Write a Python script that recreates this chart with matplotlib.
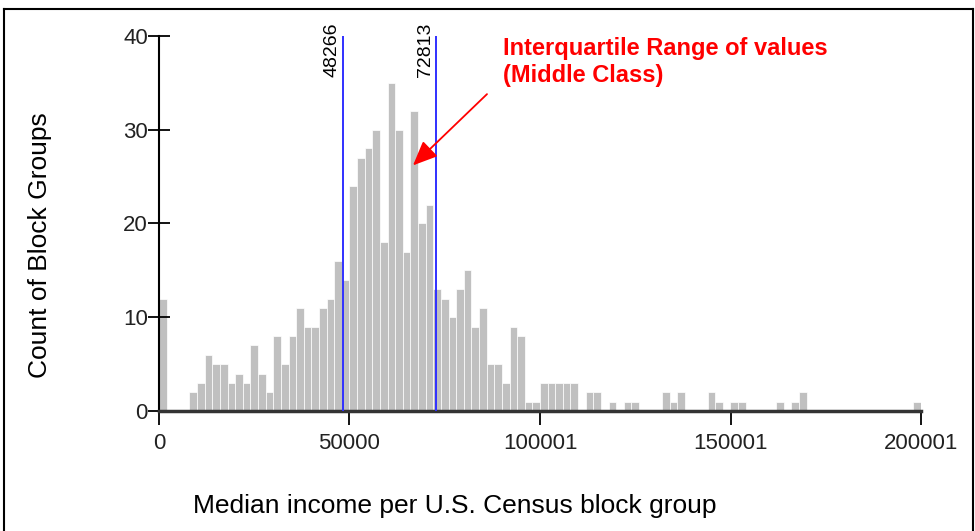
import numpy as np
import matplotlib
matplotlib.use("Agg")
from matplotlib import pyplot as plt
from matplotlib.lines import Line2D

plt.rcParams['font.family'] = ['Liberation Sans', 'DejaVu Sans']

# histogram of median income, bins of 2000 starting at 0
bin_width = 2000
counts = [12, 0, 0, 0, 2, 3, 6, 5, 5, 3,
          4, 3, 7, 4, 2, 8, 5, 8, 11, 9,
          9, 11, 12, 16, 14, 24, 27, 28, 30, 18,
          35, 30, 17, 32, 20, 22, 13, 12, 10, 13,
          15, 9, 11, 5, 5, 3, 9, 8, 1, 1,
          3, 3, 3, 3, 3, 0, 2, 2, 0, 1,
          0, 1, 1, 0, 0, 0, 2, 1, 2, 0,
          0, 0, 2, 1, 0, 1, 1, 0, 0, 0,
          0, 1, 0, 1, 2, 0, 0, 0, 0, 0,
          0, 0, 0, 0, 0, 0, 0, 0, 0, 1]
quartiles = [48266, 72813]
xticks = [0, 50000, 100001, 150001, 200001]
yticks = [0, 10, 20, 30, 40]

fig = plt.figure(figsize=(9.75, 5.31), dpi=100)
ax = fig.add_axes([159/975, 1-411/531, 762/975, 375/531])

left_edges = np.arange(len(counts)) * bin_width
ax.bar(left_edges, counts, width=bin_width, align='edge', color='#c0c0c0',
       edgecolor='white', linewidth=0.5, zorder=1)

for q in quartiles:
    ax.plot([q, q], [0, 40], color='#3030ff', linewidth=1.4, zorder=3)
    ax.annotate(str(q), xy=(q, 35.6), xytext=(-2, 0), textcoords='offset points',
                rotation=90, ha='right', va='bottom', fontsize=14, color='black')

ax.set_xlim(0, 200001)
ax.set_ylim(0, 40)
ax.set_xticks(xticks)
ax.set_xticklabels([str(t) for t in xticks])
ax.set_yticks(yticks)
ax.tick_params(axis='both', labelsize=16, width=1.3, color='black', labelcolor='#222222')
ax.tick_params(axis='x', length=10, pad=6)
ax.tick_params(axis='y', direction='inout', length=16, pad=0)

for s in ['top', 'right']:
    ax.spines[s].set_visible(False)
ax.spines['left'].set_linewidth(1.5)
ax.spines['bottom'].set_linewidth(2.5)
ax.spines['bottom'].set_color('#333333')

ax.text(90289, 39.9, 'Interquartile Range of values\n(Middle Class)', color='#ff0000',
        fontsize=17, fontweight='bold', ha='left', va='top', linespacing=1.25)
ax.annotate('', xy=(66667, 26.2), xytext=(86089, 33.8),
            arrowprops=dict(arrowstyle='-|>,head_length=1.5,head_width=0.65',
                            color='#ff0000', linewidth=1.3, shrinkA=0, shrinkB=0))

fig.text(40/975, 1-245/531, 'Count of Block Groups', rotation=90, fontsize=19,
         ha='center', va='center')
fig.text(455/975, 1-506/531, 'Median income per U.S. Census block group', fontsize=19,
         ha='center', va='center')

# outer frame
fig.add_artist(Line2D([4/975, 973/975], [1-9/531, 1-9/531], color='black', linewidth=1.5))
fig.add_artist(Line2D([4/975, 4/975], [0, 1-9/531], color='black', linewidth=1.5))
fig.add_artist(Line2D([973/975, 973/975], [0, 1-9/531], color='black', linewidth=1.5))

fig.savefig('out.png', dpi=100)
